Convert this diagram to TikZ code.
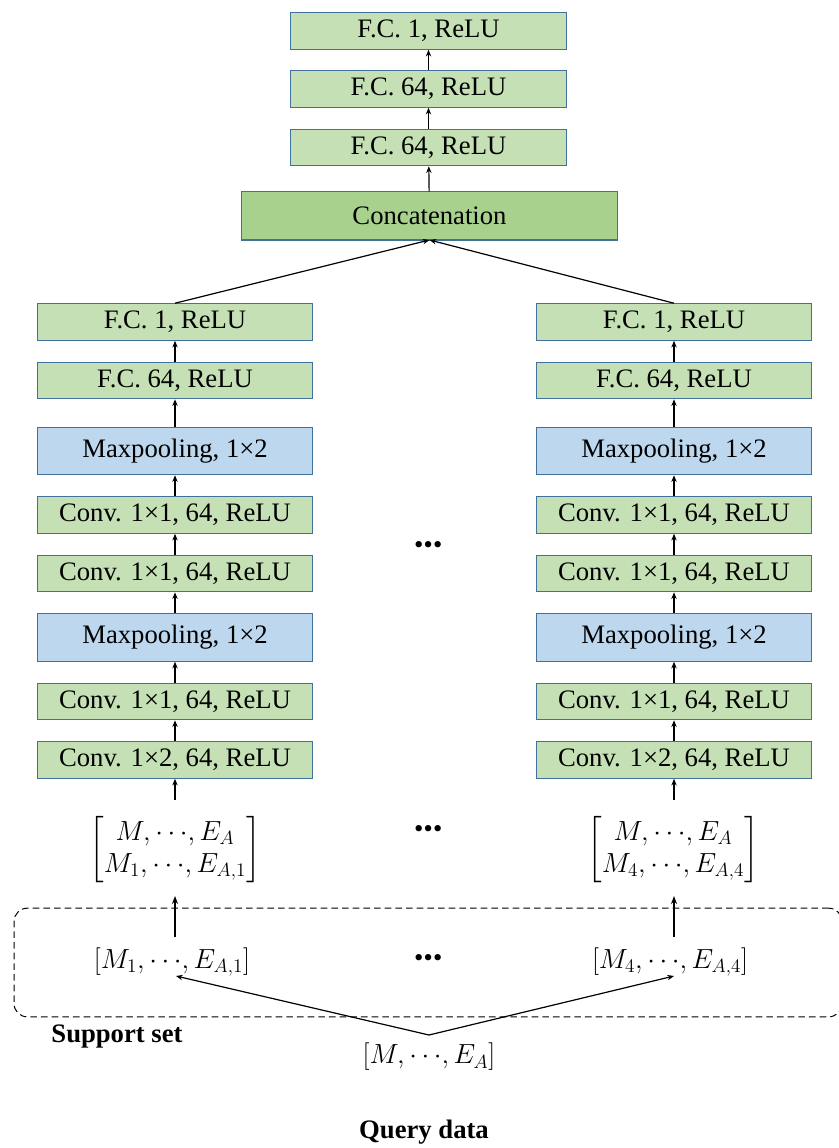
\documentclass[tikz,border=0pt]{standalone}
\usepackage{amsmath}
\usepackage{fontspec}
\setmainfont{Liberation Serif}
\newfontfamily\dotsfont{Carlito}
\usetikzlibrary{arrows.meta}
\definecolor{bordc}{HTML}{41719C}
\definecolor{lgreen}{HTML}{C5E0B4}
\definecolor{dgreen}{HTML}{A9D18E}
\definecolor{lblue}{HTML}{BDD7EE}
\tikzset{
  layer/.style={draw=bordc, line width=0.75pt, minimum width=206.5pt, minimum height=27.4pt,
    inner sep=0pt, font=\fontsize{20}{24}\selectfont},
  fcbox/.style={layer, fill=lgreen},
  poolbox/.style={layer, fill=lblue, minimum height=35.6pt},
  catbox/.style={layer, fill=dgreen, minimum width=281.5pt, minimum height=36pt},
  arr/.style={-{Stealth[length=5pt,width=4pt]}, line width=0.9pt},
  thickarr/.style={-{Stealth[length=6pt,width=4.5pt]}, line width=1.4pt},
  mtext/.style={inner sep=0pt, font=\fontsize{20}{24}\selectfont},
  dotstext/.style={inner sep=0pt, font=\dotsfont\bfseries\fontsize{32}{34}\selectfont},
  lbl/.style={inner sep=0pt, font=\bfseries\fontsize{20}{24}\selectfont},
  supportbox/.style={draw, dash pattern=on 5pt off 3pt, line width=0.75pt, rounded corners=10pt}
}
\begin{document}
\begin{tikzpicture}[x=0.75pt,y=-0.75pt]
\useasboundingbox (0,0) rectangle (838,1148);
% top stack
\node[fcbox] (t1) at (428.5,31) {F.C. 1, ReLU};
\node[fcbox] (t2) at (428.5,89) {F.C. 64, ReLU};
\node[fcbox] (t3) at (428.5,147.5) {F.C. 64, ReLU};
\node[catbox] (cat) at (429.5,216) {Concatenation};
\draw[arr] (t2) -- (t1);
\draw[arr] (t3) -- (t2);
\draw[arr] (cat) -- (t3);
% left column
\node[fcbox] (l1) at (175,322) {F.C. 1, ReLU};
\node[fcbox] (l2) at (175,380.5) {F.C. 64, ReLU};
\node[poolbox] (l3) at (175,451) {Maxpooling, 1×2};
\node[fcbox] (l4) at (175,515) {Conv. 1×1, 64, ReLU};
\node[fcbox] (l5) at (175,573.5) {Conv. 1×1, 64, ReLU};
\node[poolbox] (l6) at (175,637.5) {Maxpooling, 1×2};
\node[fcbox] (l7) at (175,701.5) {Conv. 1×1, 64, ReLU};
\node[fcbox] (l8) at (175,760) {Conv. 1×2, 64, ReLU};
% right column
\node[fcbox] (r1) at (674,322) {F.C. 1, ReLU};
\node[fcbox] (r2) at (674,380.5) {F.C. 64, ReLU};
\node[poolbox] (r3) at (674,451) {Maxpooling, 1×2};
\node[fcbox] (r4) at (674,515) {Conv. 1×1, 64, ReLU};
\node[fcbox] (r5) at (674,573.5) {Conv. 1×1, 64, ReLU};
\node[poolbox] (r6) at (674,637.5) {Maxpooling, 1×2};
\node[fcbox] (r7) at (674,701.5) {Conv. 1×1, 64, ReLU};
\node[fcbox] (r8) at (674,760) {Conv. 1×2, 64, ReLU};
\foreach \c in {l,r}{
  \draw[arr] (\c2) -- (\c1);
  \draw[arr] (\c3) -- (\c2);
  \draw[arr] (\c4) -- (\c3);
  \draw[arr] (\c5) -- (\c4);
  \draw[arr] (\c6) -- (\c5);
  \draw[arr] (\c7) -- (\c6);
  \draw[arr] (\c8) -- (\c7);
}
\coordinate (catin) at (429.5,240);
\draw[arr] (l1.north) -- (catin);
\draw[arr] (r1.north) -- (catin);
% dots
\node[dotstext] (d1) at (429,545) {…};
\node[dotstext] (d2) at (429,829) {…};
\node[dotstext] (d3) at (429,958) {…};
% matrices
\node[mtext] (ml) at (175,850) {$\begin{bmatrix} M,{\cdots},E_A\\ M_1,{\cdots},E_{A,1}\end{bmatrix}$};
\node[mtext] (mr) at (673,850) {$\begin{bmatrix} M,{\cdots},E_A\\ M_4,{\cdots},E_{A,4}\end{bmatrix}$};
\coordinate (ml0) at (175,800);
\coordinate (mr0) at (674,800);
\draw[arr] (ml0) -- (l8);
\draw[arr] (mr0) -- (r8);
% support set
\node[supportbox, minimum width=621pt, minimum height=81.5pt, inner sep=0pt] (sup) at (428,962.5) {};
\node[mtext] (vl) at (172,962) {$[M_1,{\cdots},E_{A,1}]$};
\node[mtext] (vr) at (670,962) {$[M_4,{\cdots},E_{A,4}]$};
\coordinate (vl0) at (175,937);
\coordinate (vl1) at (175,896);
\coordinate (vr0) at (674,937);
\coordinate (vr1) at (674,896);
\draw[thickarr] (vl0) -- (vl1);
\draw[thickarr] (vr0) -- (vr1);
\node[lbl] (suplbl) at (117,1036) {Support set};
% query
\node[mtext] (q) at (429,1057) {$[M,{\cdots},E_A]$};
\coordinate (qa) at (429,1035);
\coordinate (ql) at (176,976);
\coordinate (qr) at (674,976);
\draw[arr] (qa) -- (ql);
\draw[arr] (qa) -- (qr);
\node[lbl] (qlbl) at (424,1132) {Query data};
\end{tikzpicture}
\end{document}
